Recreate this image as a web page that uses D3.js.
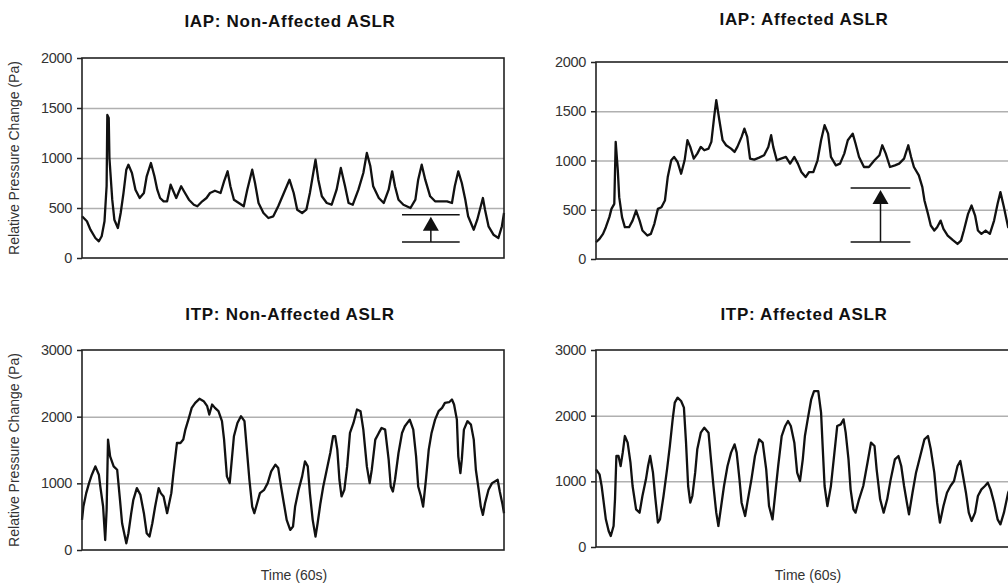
<!DOCTYPE html>
<html>
<head>
<meta charset="utf-8">
<script src="https://cdn.jsdelivr.net/npm/d3@7"></script>
<style>
  body { margin: 0; background: #fff; }
  svg { display: block; font-family: "Liberation Sans", Arial, sans-serif; }
</style>
</head>
<body>
<div id="chart"></div>
<script>
// time in seconds (60 s window) and relative pressure change (Pa)
var iapNonT = [0,0.7,1.2,1.9,2.4,2.8,3.2,3.5,3.6,3.8,3.9,4.3,4.6,5.1,5.5,5.9,6.3,6.6,7.1,7.6,8.2,8.8,9.2,9.8,10.3,10.7,11.1,11.6,12.1,12.6,12.9,13.4,14.1,14.5,15.2,15.9,16.4,17.1,17.7,18.2,18.9,19.7,20.2,20.7,21.1,21.6,22.3,23.0,23.5,24.2,24.6,25.1,25.8,26.5,27.2,27.9,28.7,29.5,30.1,30.6,31.3,31.9,32.4,33.2,33.6,34.1,34.8,35.5,36.2,36.8,37.4,37.9,38.5,39.3,40.0,40.5,41.0,41.4,42.2,42.9,43.6,44.1,44.5,45.0,45.7,46.7,47.4,47.8,48.3,48.8,49.5,50.2,50.9,51.9,52.6,53.0,53.5,54.0,54.5,54.9,55.7,56.2,57.0,57.3,57.8,58.5,59.2,59.7,60];
var iapNonV = [417,367,283,200,167,217,367,720,1430,1400,1000,583,383,300,450,650,883,933,850,683,600,650,817,950,817,683,600,567,567,733,683,600,717,667,583,533,517,567,600,650,673,650,767,867,717,583,550,517,683,883,750,550,450,400,417,517,650,783,650,483,450,483,650,983,783,617,550,533,683,900,717,550,533,683,850,1050,917,717,600,550,683,867,717,583,533,500,583,783,933,783,617,567,567,567,550,717,867,750,583,417,283,383,600,483,317,233,200,317,450];

var iapAffT = [0,0.5,1.0,1.4,1.9,2.2,2.6,2.8,3.1,3.3,3.7,4.1,4.7,5.2,5.7,6.2,6.6,7.3,7.8,8.3,8.8,9.3,9.8,10.2,10.7,11.1,11.6,12.1,12.6,13.0,13.4,13.9,14.4,14.9,15.4,16.0,16.4,16.8,17.1,17.5,18.0,18.5,19.2,19.7,20.1,20.7,21.1,21.5,21.9,22.5,23.2,23.9,24.5,24.9,25.2,25.7,26.3,27.0,27.6,28.2,28.7,29.2,29.8,30.3,30.9,31.5,32.0,32.5,33.0,33.4,34.1,34.7,35.3,35.8,36.5,36.9,37.4,38.1,38.8,39.6,40.3,40.7,41.2,41.8,42.5,43.1,43.8,44.4,44.8,45.2,45.9,46.4,46.7,47.2,47.6,48.1,48.5,49.0,49.4,50.0,50.7,51.4,51.9,52.3,52.9,53.4,53.9,54.3,54.8,55.4,56.0,56.6,57.1,57.5,58.0,58.6,59.3,60];
var iapAffV = [170,204,255,323,425,509,560,1190,900,628,425,323,323,390,492,390,289,238,255,357,509,526,594,832,1002,1036,985,866,1002,1206,1138,1019,1070,1138,1104,1121,1189,1443,1613,1426,1206,1155,1121,1087,1138,1240,1324,1240,1019,1009,1029,1053,1138,1257,1138,1002,1019,1036,968,1036,968,883,832,883,883,1002,1206,1358,1273,1036,951,968,1070,1206,1273,1172,1036,934,934,1002,1053,1155,1070,934,951,968,1019,1155,1036,934,849,730,594,458,340,289,323,390,306,238,194,153,187,289,458,543,441,289,255,289,255,390,560,679,526,323,300,250];

var itpNonT = [0,0.2,0.6,1.0,1.4,1.9,2.4,2.6,3.0,3.3,3.5,3.7,4.0,4.5,5.0,5.4,5.7,6.0,6.3,6.6,7.0,7.3,7.8,8.3,8.8,9.2,9.6,10.0,10.4,10.9,11.2,11.6,12.1,12.3,12.7,13.0,13.5,14.0,14.4,14.7,15.2,15.6,16.1,16.7,17.3,17.8,18.1,18.5,18.9,19.4,19.9,20.2,20.6,21.0,21.3,21.6,22.1,22.6,23.1,23.4,23.8,24.2,24.5,24.9,25.3,25.9,26.4,26.9,27.5,27.9,28.3,28.7,29.1,29.6,30.0,30.3,30.8,31.3,31.7,32.1,32.4,32.8,33.2,33.5,33.9,34.3,34.8,35.3,35.7,36.0,36.3,36.6,36.9,37.3,37.7,38.1,38.6,39.1,39.6,40.0,40.5,40.9,41.2,41.7,42.2,42.6,43.1,43.6,43.9,44.2,44.5,45.0,45.5,45.9,46.6,47.1,47.5,47.8,48.2,48.5,48.9,49.3,49.7,50.2,50.7,51.2,51.6,52.2,52.6,52.9,53.3,53.5,53.8,54.0,54.3,54.8,55.3,55.7,56.0,56.4,56.7,57.0,57.3,57.8,58.3,58.7,59.1,59.4,59.8,60];
var itpNonV = [452,652,853,1003,1129,1254,1129,953,652,150,602,1656,1405,1254,1204,753,401,251,100,251,552,753,928,828,552,251,201,401,652,928,853,803,552,652,853,1154,1605,1605,1656,1806,1982,2132,2207,2268,2233,2157,2032,2182,2132,2082,1932,1656,1104,1003,1355,1706,1906,2007,1932,1555,1054,652,552,702,853,903,1003,1179,1279,1229,953,702,452,301,351,652,903,1104,1329,1254,853,452,201,401,702,953,1204,1455,1706,1706,1505,1054,803,903,1254,1756,1906,2107,2082,1806,1254,1003,1204,1656,1756,1831,1806,1355,953,878,1054,1455,1756,1856,1956,1806,1405,953,803,652,1054,1505,1756,1956,2082,2132,2207,2217,2258,2182,1956,1405,1154,1355,1806,1932,1881,1656,1204,903,652,527,702,903,1003,1029,1054,878,677,552];

var itpAffT = [0,0.5,0.8,1.1,1.4,1.8,2.1,2.5,2.7,2.9,3.2,3.5,3.8,4.1,4.5,4.9,5.2,5.7,6.2,6.6,7.1,7.4,7.7,8.1,8.4,8.8,9.1,9.6,10.1,10.5,10.9,11.2,11.6,12.1,12.5,12.8,13.1,13.4,13.7,14.1,14.4,14.9,15.4,16.0,16.3,16.7,17.1,17.4,17.8,18.2,18.7,19.2,19.7,20.0,20.4,20.7,21.2,21.6,22.1,22.6,23.2,23.7,24.2,24.6,25.1,25.4,25.9,26.4,26.9,27.3,27.7,28.2,28.6,29.0,29.4,29.7,30.1,30.6,31.0,31.6,32.0,32.2,32.5,32.9,33.4,33.9,34.3,34.8,35.2,35.5,35.9,36.2,36.6,36.9,37.4,38.0,38.6,39.1,39.6,39.9,40.4,40.9,41.4,41.9,42.5,43.0,43.4,43.8,44.2,44.5,45.0,45.5,46.1,46.7,47.2,47.6,48.1,48.5,48.9,49.4,49.9,50.4,50.9,51.4,51.8,52.1,52.6,53.0,53.4,53.9,54.3,54.8,55.3,55.7,56.1,56.6,57.1,57.5,58.0,58.6,59.3,60];
var itpAffV = [1183,1107,929,675,421,244,168,320,726,1386,1386,1233,1437,1690,1589,1284,929,574,523,777,1030,1233,1386,1132,777,371,421,777,1183,1538,1944,2198,2274,2223,2122,1589,929,675,777,1132,1487,1741,1817,1741,1386,929,523,320,624,929,1233,1437,1563,1437,1030,675,472,726,1030,1386,1640,1589,1183,624,421,726,1233,1690,1843,1919,1843,1589,1132,1005,1335,1690,1944,2249,2375,2375,2046,1589,929,624,929,1437,1843,1868,1944,1741,1335,878,574,523,726,929,1284,1589,1538,1183,726,523,726,1030,1335,1386,1233,929,675,497,827,1132,1386,1640,1690,1487,1132,675,371,624,827,929,1005,1233,1310,1132,827,523,396,523,777,878,929,980,878,675,421,345,523,827,1000,900];

// bracket + arrow markers: [start time, end time, low value, high value]
var iapNonBracket = [45.5, 53.7, 160, 433];
var iapAffBracket = [36.2, 44.7, 173, 721];

var iapTicks = [0, 500, 1000, 1500, 2000];
var itpTicks = [0, 1000, 2000, 3000];
var titles = ["IAP: Non-Affected ASLR", "IAP: Affected ASLR", "ITP: Non-Affected ASLR", "ITP: Affected ASLR"];
var yLabel = "Relative Pressure Change (Pa)";
var xLabel = "Time (60s)";

var width = 1008, height = 586;
var svg = d3.select("#chart").append("svg")
    .attr("width", width).attr("height", height);

var panels = [
  { title: titles[0], t: iapNonT, v: iapNonV, ticks: iapTicks, left: 82,  top: 58,  w: 422, h: 200, titleY: 27,  bracket: iapNonBracket, ylab: true,  xlab: false },
  { title: titles[1], t: iapAffT, v: iapAffV, ticks: iapTicks, left: 596, top: 62,  w: 422, h: 197, titleY: 25,  bracket: iapAffBracket, ylab: false, xlab: false },
  { title: titles[2], t: itpNonT, v: itpNonV, ticks: itpTicks, left: 82,  top: 350, w: 422, h: 200, titleY: 320, bracket: null, ylab: true,  xlab: true },
  { title: titles[3], t: itpAffT, v: itpAffV, ticks: itpTicks, left: 596, top: 350, w: 422, h: 197, titleY: 320, bracket: null, ylab: false, xlab: true }
];

panels.forEach(function(p) {
  var x = d3.scaleLinear().domain([0, 60]).range([p.left, p.left + p.w]);
  var y = d3.scaleLinear().domain([0, d3.max(p.ticks)]).range([p.top + p.h, p.top]);
  var g = svg.append("g");

  // title
  g.append("text")
    .attr("x", p.left + p.w / 2 - 3)
    .attr("y", p.titleY)
    .attr("text-anchor", "middle")
    .attr("font-weight", "bold")
    .attr("font-size", 17)
    .attr("letter-spacing", 0.7)
    .attr("fill", "#111")
    .text(p.title);

  // grid lines
  g.append("g")
    .attr("transform", "translate(" + p.left + ",0)")
    .call(d3.axisLeft(y).tickValues(p.ticks.slice(1, -1)).tickSize(-p.w).tickFormat(""))
    .call(function(s) {
      s.select(".domain").remove();
      s.selectAll("line").attr("stroke", "#b0b0b0").attr("stroke-width", 1.5);
    });

  // y axis ticks + labels
  g.append("g")
    .attr("transform", "translate(" + p.left + ",0)")
    .call(d3.axisLeft(y).tickValues(p.ticks).tickSize(5).tickPadding(5).tickFormat(d3.format("d")))
    .call(function(s) {
      s.select(".domain").remove();
      s.selectAll("line").attr("stroke", "#222").attr("stroke-width", 1.5);
      s.selectAll("text").attr("font-size", 14.5).attr("fill", "#333")
        .attr("letter-spacing", -0.3)
        .attr("font-family", "'Liberation Sans', Arial, sans-serif");
    });

  // data trace
  var line = d3.line()
    .x(function(d, i) { return x(p.t[i]); })
    .y(function(d) { return y(d); });
  g.append("path")
    .datum(p.v)
    .attr("d", line)
    .attr("fill", "none")
    .attr("stroke", "#111")
    .attr("stroke-width", 2.3)
    .attr("stroke-linejoin", "round");

  // frame
  g.append("rect")
    .attr("x", p.left).attr("y", p.top)
    .attr("width", p.w).attr("height", p.h)
    .attr("fill", "none")
    .attr("stroke", "#222")
    .attr("stroke-width", 1.6);

  // bracket with arrow
  if (p.bracket) {
    var b = p.bracket;
    var bx0 = x(b[0]), bx1 = x(b[1]), bxm = (bx0 + bx1) / 2;
    var yLo = y(b[2]), yHi = y(b[3]);
    g.append("line").attr("x1", bx0).attr("x2", bx1).attr("y1", yHi).attr("y2", yHi)
      .attr("stroke", "#111").attr("stroke-width", 1.5);
    g.append("line").attr("x1", bx0).attr("x2", bx1).attr("y1", yLo).attr("y2", yLo)
      .attr("stroke", "#111").attr("stroke-width", 1.5);
    g.append("line").attr("x1", bxm).attr("x2", bxm).attr("y1", yLo).attr("y2", yHi + 14)
      .attr("stroke", "#111").attr("stroke-width", 1.5);
    g.append("path")
      .attr("d", "M" + bxm + "," + (yHi + 2) + "L" + (bxm - 8) + "," + (yHi + 16) + "L" + (bxm + 8) + "," + (yHi + 16) + "Z")
      .attr("fill", "#111");
  }

  if (p.ylab) {
    g.append("text")
      .attr("transform", "translate(" + 19 + "," + (p.top + p.h / 2) + ") rotate(-90)")
      .attr("text-anchor", "middle")
      .attr("font-size", 14)
      .attr("fill", "#333")
      .text(yLabel);
  }
  if (p.xlab) {
    g.append("text")
      .attr("x", p.left + 212)
      .attr("y", 580)
      .attr("text-anchor", "middle")
      .attr("font-size", 14)
      .attr("fill", "#333")
      .text(xLabel);
  }
});
</script>
</body>
</html>
